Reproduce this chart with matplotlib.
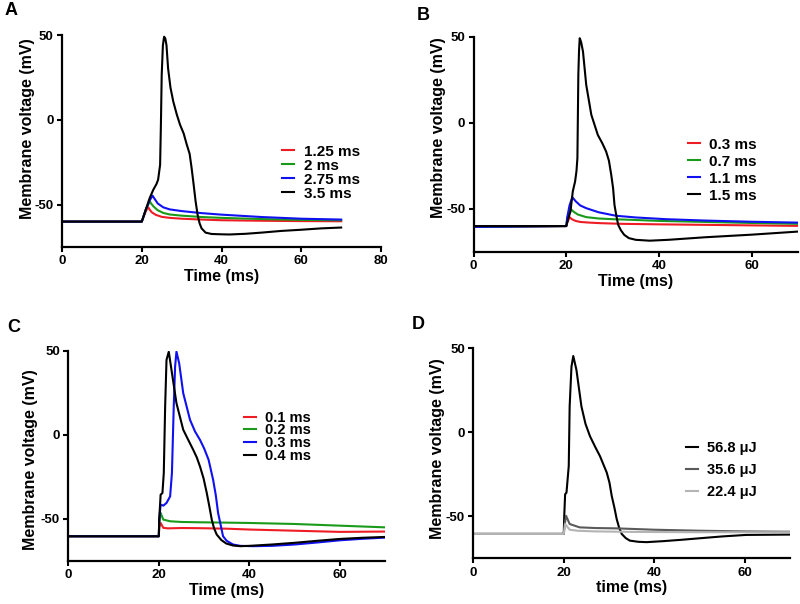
import matplotlib
matplotlib.use("Agg")
import matplotlib.pyplot as plt

plt.rcParams['font.family'] = ['Liberation Sans', 'DejaVu Sans']
plt.rcParams['font.weight'] = 'bold'
plt.rcParams['axes.labelweight'] = 'bold'
plt.rcParams['axes.unicode_minus'] = False

# ---- panel A: stimulus durations ----
a_labels = ["1.25 ms", "2 ms", "2.75 ms", "3.5 ms"]
a_t_red = [0, 20, 20.3, 21, 21.6, 22, 22.5, 23.5, 25, 27, 30, 35, 40, 50, 60, 70]
a_v_red = [-60, -60, -58, -54, -51.5, -53, -54.5, -56, -57.2, -57.8, -58.3, -58.8, -59.2, -59.5, -59.7, -59.8]
a_t_green = [0, 20, 20.3, 21, 22, 22.4, 23, 24, 25.4, 27, 30, 35, 40, 50, 60, 70]
a_v_green = [-60, -60, -58, -53, -48, -49.5, -51.2, -53.3, -54.9, -55.8, -56.5, -57.3, -57.8, -58.5, -59, -59.2]
a_t_blue = [0, 20, 20.3, 21, 22, 22.7, 23.2, 24, 25.4, 27, 30, 35, 40, 50, 60, 70]
a_v_blue = [-60, -60, -58, -53, -47.5, -44.7, -46.5, -49.3, -51.6, -52.8, -53.8, -55, -55.9, -57.3, -58.3, -58.8]
a_t_black = [0, 20, 20.3, 21, 22, 22.9, 23.7, 24.1, 24.6, 24.8, 25.0, 25.3, 25.6, 25.9, 26.2, 26.6,
             27.2, 27.9, 28.8, 29.6, 30.5, 31.3, 32.0, 32.5, 33.0, 33.5, 34.0, 34.5, 35.0, 36, 37.5,
             40, 42, 46, 50, 55, 60, 65, 70]
a_v_black = [-60, -60, -58, -53, -46, -41.2, -37.8, -35.3, -26.5, -2.9, 26.5, 44, 49, 48, 44, 30.4,
             19, 10.8, 3, -2.9, -8, -14.7, -20, -28.4, -38, -48, -56, -61, -64, -66.5, -67.3,
             -67.5, -67.6, -67.2, -66.5, -65.5, -64.8, -64, -63.5]

# ---- panel B ----
b_labels = ["0.3 ms", "0.7 ms", "1.1 ms", "1.5 ms"]
b_t_red = [0, 20, 20.2, 20.7, 21.2, 22, 23, 25, 27.2, 32, 40, 50, 60, 70]
b_v_red = [-60.5, -60, -58, -54.8, -56, -57, -57.6, -58, -58.3, -58.7, -59, -59.3, -59.6, -59.9]
b_t_green = [0, 20, 20.2, 20.8, 21.5, 22.5, 24.3, 27, 30, 34.3, 40, 50, 60, 70]
b_v_green = [-60.5, -60, -56, -49.6, -51.5, -53.3, -54.8, -55.6, -56, -56.4, -57, -57.6, -58.2, -58.7]
b_t_blue = [0, 20, 20.2, 20.7, 21.3, 22, 23, 24.3, 27, 30.7, 35, 41.5, 50, 60, 70]
b_v_blue = [-60.5, -60, -55, -48, -43.2, -45.5, -48, -49.6, -52, -54, -55, -56, -56.8, -57.5, -58]
b_t_black = [0, 20, 20.2, 20.5, 20.9, 21.4, 21.9, 22.2, 22.4, 22.6, 22.75, 22.9, 23.2, 23.6, 24.3,
             25.4, 26.8, 27.8, 28.6, 29.2, 29.7, 30.1, 30.4, 30.8, 31.2, 31.8, 32.5, 33.5, 35, 38,
             42, 50, 60, 70]
b_v_black = [-60, -60, -58, -55, -51.6, -39.9, -34.1, -28, -20.5, 27.9, 42, 49.2, 47, 41.5, 22.1,
             4.7, -7, -12, -16.7, -22, -30.2, -38, -47.7, -54, -59.3, -62.5, -65.1, -67, -68, -68.5,
             -68, -66.5, -65, -63.2]

# ---- panel C ----
c_labels = ["0.1 ms", "0.2 ms", "0.3 ms", "0.4 ms"]
c_t_red = [0, 20, 20.1, 20.4, 21.0, 22, 25, 29.1, 35, 40, 50, 60, 70]
c_v_red = [-60.3, -60.3, -55, -52.4, -55.3, -55.6, -55.4, -55.5, -55.8, -56.3, -57, -57.7, -57.5]
c_t_green = [0, 20, 20.1, 20.4, 21.0, 22.5, 25, 29.1, 35, 40, 50, 60, 70]
c_v_green = [-60.3, -60.3, -52, -46.4, -50.4, -51.4, -51.8, -52, -52.2, -52.4, -53, -54, -55]
c_t_blue = [0, 20, 20.1, 20.4, 21.0, 21.7, 22.5, 22.9, 23.3, 23.6, 23.9, 24.5, 25.4, 26.9, 28, 29.1,
            30, 31, 32, 32.6, 33.1, 33.7, 34.2, 35, 36.4, 38, 40.8, 45, 50, 55, 60, 65, 70]
c_v_blue = [-60.3, -60.3, -50, -41.5, -42.1, -40.5, -36.6, -22.7, 16.8, 40.5, 49.4, 42.5, 24.7, 8.9,
            2, -3, -8, -14.8, -26.7, -36, -46.4, -54, -60.3, -63, -65.2, -66, -66.2, -66, -65.2,
            -64, -62.7, -61.8, -61.1]
c_t_black = [0, 20, 20.1, 20.4, 20.8, 21.1, 21.4, 21.7, 22.2, 22.8, 23.9, 25.4, 26.5, 27.6, 28.4,
             29.1, 29.9, 30.6, 31.2, 31.7, 32.2, 32.8, 33.8, 34.9, 36.4, 38, 40, 45, 50, 55, 60, 65, 70]
c_v_black = [-60.3, -60.3, -50, -35.6, -34.6, -22.7, 16.8, 44.5, 49.4, 38.6, 18.8, 3, -3, -8.9,
             -13.5, -18.8, -26, -34.6, -43, -50.4, -55.5, -59.3, -62.5, -64.6, -65.8, -66.2, -66,
             -65.2, -64.2, -63, -61.9, -61.2, -60.7]

# ---- panel D: pulse energies ----
d_labels = ["56.8 \u03bcJ", "35.6 \u03bcJ", "22.4 \u03bcJ"]
d_t_black = [0, 20, 20.1, 20.3, 20.6, 21.1, 21.3, 21.7, 22.1, 22.8, 23.9, 24.8, 25.8, 27, 28, 29.5,
             30.1, 30.6, 31.2, 31.7, 32.2, 32.8, 33.7, 34.6, 36.5, 38.3, 42, 46, 50, 55, 60.3, 65, 70]
d_v_black = [-60.5, -60.5, -50, -36.9, -35.9, -20.1, 15.4, 39, 45.4, 37.1, 15.4, 5, -2.4, -9, -14.2,
             -24, -30, -37.9, -45, -51.7, -56.5, -60.5, -63, -64.5, -65.2, -65.4, -64.8, -64,
             -63.1, -62, -61.1, -61, -60.9]
d_t_dark = [0, 20, 20.2, 20.5, 21.3, 23.5, 27, 31.7, 40, 50, 60, 70]
d_v_dark = [-60.5, -60.5, -55, -49.7, -54.6, -56.6, -57, -57.2, -58, -58.6, -59, -59.2]
d_t_light = [0, 20, 20.2, 20.3, 21.3, 23, 27, 35, 50, 60, 70]
d_v_light = [-60.5, -60.5, -57, -54.6, -58, -58.6, -59, -59.3, -59.5, -59.5, -59.5]

RED, GREEN, BLUE, BLACK = "#ee1c24", "#1a9a1a", "#1010f0", "black"

fig = plt.figure(figsize=(8, 6.04), dpi=100)


def style(ax, xmax, xticks, xlabel, ylab_x, ylab_y):
    ax.set_xlim(0, xmax)
    ax.set_ylim(-75, 50)
    ax.set_xticks(xticks)
    ax.set_yticks([-50, 0, 50])
    for s in ["top", "right"]:
        ax.spines[s].set_visible(False)
    for s in ["left", "bottom"]:
        ax.spines[s].set_linewidth(1.6)
    ax.tick_params(direction="out", length=3.5, width=1.5, labelsize=9.5, pad=2.5)
    ax.set_xlabel(xlabel, fontsize=11.5)
    ax.set_ylabel("Membrane voltage (mV)", fontsize=11.5)
    ax.xaxis.set_label_coords(0.5, -0.105)
    ax.yaxis.set_label_coords(ylab_x, ylab_y)


# A
axA = fig.add_axes([0.0775, 0.591, 0.3988, 0.351])
axA.plot(a_t_red, a_v_red, color=RED, lw=1.5, label=a_labels[0])
axA.plot(a_t_green, a_v_green, color=GREEN, lw=1.5, label=a_labels[1])
axA.plot(a_t_blue, a_v_blue, color=BLUE, lw=1.5, label=a_labels[2])
axA.plot(a_t_black, a_v_black, color=BLACK, lw=1.5, label=a_labels[3])
style(axA, 80, [0, 20, 40, 60, 80], "Time (ms)", -0.086, 0.56)
axA.legend(loc="center left", bbox_to_anchor=(0.69, 0.35), frameon=False, fontsize=11,
           handlelength=0.8, handletextpad=0.6, labelspacing=0.0, borderpad=0, borderaxespad=0)

# B
axB = fig.add_axes([0.592, 0.583, 0.4055, 0.356])
axB.plot(b_t_red, b_v_red, color=RED, lw=1.5, label=b_labels[0])
axB.plot(b_t_green, b_v_green, color=GREEN, lw=1.5, label=b_labels[1])
axB.plot(b_t_blue, b_v_blue, color=BLUE, lw=1.5, label=b_labels[2])
axB.plot(b_t_black, b_v_black, color=BLACK, lw=1.5, label=b_labels[3])
style(axB, 70, [0, 20, 40, 60], "Time (ms)", -0.085, 0.58)
axB.legend(loc="center left", bbox_to_anchor=(0.66, 0.38), frameon=False, fontsize=11,
           handlelength=0.8, handletextpad=0.6, labelspacing=0.2, borderpad=0, borderaxespad=0)

# C
axC = fig.add_axes([0.0854, 0.0712, 0.3959, 0.3482])
axC.plot(c_t_red, c_v_red, color=RED, lw=1.5, label=c_labels[0])
axC.plot(c_t_green, c_v_green, color=GREEN, lw=1.5, label=c_labels[1])
axC.plot(c_t_blue, c_v_blue, color=BLUE, lw=1.5, label=c_labels[2])
axC.plot(c_t_black, c_v_black, color=BLACK, lw=1.5, label=c_labels[3])
style(axC, 70, [0, 20, 40, 60], "Time (ms)", -0.095, 0.48)
axC.legend(loc="center left", bbox_to_anchor=(0.555, 0.59), frameon=False, fontsize=10.5,
           handlelength=0.8, handletextpad=0.6, labelspacing=-0.08, borderpad=0, borderaxespad=0)

# D
axD = fig.add_axes([0.5916, 0.0757, 0.3959, 0.3477])
axD.plot(d_t_black, d_v_black, color=BLACK, lw=1.5, label=d_labels[0])
axD.plot(d_t_dark, d_v_dark, color="#5a5a5a", lw=1.5, label=d_labels[1])
axD.plot(d_t_light, d_v_light, color="#b4b4b4", lw=1.5, label=d_labels[2])
style(axD, 70, [0, 20, 40, 60], "time (ms)", -0.09, 0.52)
axD.legend(loc="center left", bbox_to_anchor=(0.672, 0.42), frameon=False, fontsize=10.5,
           handlelength=0.8, handletextpad=0.6, labelspacing=0.53, borderpad=0, borderaxespad=0)

# panel letters
fig.text(0.006, 0.982, "A", fontsize=13, fontweight="bold", va="center")
fig.text(0.521, 0.975, "B", fontsize=13, fontweight="bold", va="center")
fig.text(0.009, 0.457, "C", fontsize=13, fontweight="bold", va="center")
fig.text(0.515, 0.462, "D", fontsize=13, fontweight="bold", va="center")

fig.savefig("out.png", dpi=100)
